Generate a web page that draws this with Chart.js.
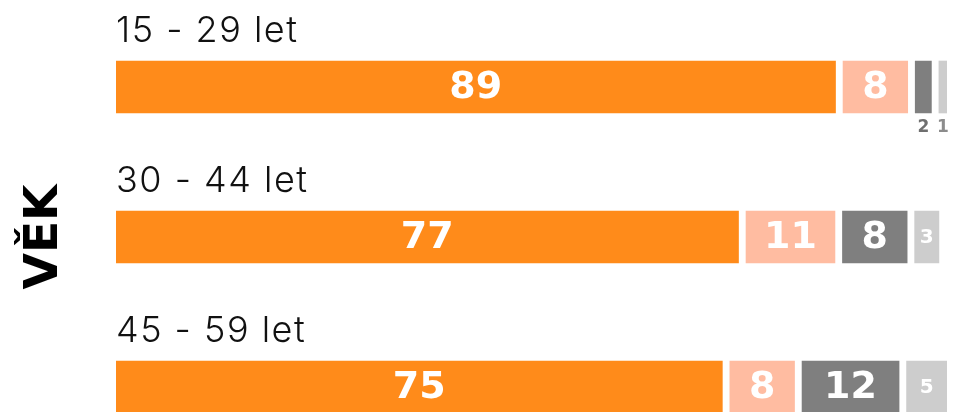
<!DOCTYPE html>
<html>
<head>
<meta charset="utf-8">
<script src="https://cdn.jsdelivr.net/npm/chart.js@4"></script>
<style>
  html, body { margin: 0; padding: 0; background: #fff; overflow: hidden; }
  #wrap { width: 956px; height: 474px; position: relative; }
</style>
</head>
<body>
<div id="wrap"><canvas id="vekChart"></canvas></div>
<script>
// kategorie a hodnoty (v %)
const categories = ['15 - 29 let', '30 - 44 let', '45 - 59 let'];
const orangeValues = [89, 77, 75];
const peachValues = [8, 11, 8];
const darkValues = [2, 8, 12];
const lightValues = [1, 3, 5];

const seriesValues = [orangeValues, peachValues, darkValues, lightValues];
const seriesColors = ['#FF8B1A', '#FFBCA1', '#7F7F7F', '#CDCDCD'];
const smallLabelColors = ['#ffffff', '#ffffff', '#6f6f6f', '#8c8c8c'];

// mezera mezi segmenty v jednotkach osy x
const GAP = 0.93;

// plovouci sloupce: start = soucet predchozich hodnot + mezery
function buildDatasets() {
    return seriesValues.map((vals, i) => ({
        label: 'řada ' + (i + 1),
        data: vals.map((v, r) => {
            let start = i * GAP;
            for (let k = 0; k < i; k++) start += seriesValues[k][r];
            return [start, start + v];
        }),
        values: vals,
        backgroundColor: seriesColors[i],
        borderWidth: 0,
        barThickness: 52,
        grouped: false
    }));
}

// popisky hodnot a kategorii
const labelPlugin = {
    id: 'labelPlugin',
    afterDatasetsDraw(chart) {
        const ctx = chart.ctx;
        const yScale = chart.scales.y;
        ctx.save();

        // nazvy kategorii nad sloupci
        ctx.fillStyle = '#111';
        ctx.font = '300 36px Inter, "Noto Sans", sans-serif';
        ctx.letterSpacing = '1.5px';
        ctx.textAlign = 'left';
        ctx.textBaseline = 'alphabetic';
        categories.forEach((c, r) => {
            const y = yScale.getPixelForValue(r);
            ctx.fillText(c, chart.chartArea.left, y - 45);
        });
        ctx.letterSpacing = '0px';

        chart.data.datasets.forEach((ds, i) => {
            const meta = chart.getDatasetMeta(i);
            meta.data.forEach((bar, r) => {
                const v = ds.values[r];
                const left = Math.min(bar.x, bar.base);
                const right = Math.max(bar.x, bar.base);
                const w = right - left;
                const cx = (left + right) / 2;
                ctx.textAlign = 'center';
                ctx.textBaseline = 'middle';
                if (w >= 50) {
                    ctx.fillStyle = '#fff';
                    ctx.font = 'bold 38px "DejaVu Sans", sans-serif';
                    ctx.fillText(String(v), cx, bar.y + 1);
                } else if (w >= 20) {
                    ctx.fillStyle = '#fff';
                    ctx.font = 'bold 20px "DejaVu Sans", sans-serif';
                    ctx.fillText(String(v), cx, bar.y + 1);
                } else {
                    ctx.fillStyle = smallLabelColors[i];
                    ctx.font = 'bold 17px "DejaVu Sans", sans-serif';
                    ctx.fillText(String(v), cx, bar.y + bar.height / 2 + 15);
                }
            });
        });
        ctx.restore();
    }
};

const ctx = document.getElementById('vekChart').getContext('2d');
new Chart(ctx, {
    type: 'bar',
    data: {
        labels: categories,
        datasets: buildDatasets()
    },
    options: {
        indexAxis: 'y',
        responsive: true,
        maintainAspectRatio: false,
        animation: false,
        layout: { padding: { top: 12, bottom: 12, left: 0, right: 9 } },
        plugins: {
            legend: { display: false },
            tooltip: { enabled: false }
        },
        scales: {
            x: {
                display: false,
                min: 0,
                max: 100 + 3 * GAP
            },
            y: {
                position: 'left',
                grid: { display: false },
                border: { display: false },
                ticks: { display: false },
                title: {
                    display: true,
                    text: 'VĚK',
                    color: '#000',
                    font: { family: '"DejaVu Sans", sans-serif', size: 47, weight: 'bold' },
                    padding: { top: 17, bottom: 0 }
                },
                afterFit(scale) { scale.width = 116; }
            }
        }
    },
    plugins: [labelPlugin]
});
</script>
</body>
</html>
